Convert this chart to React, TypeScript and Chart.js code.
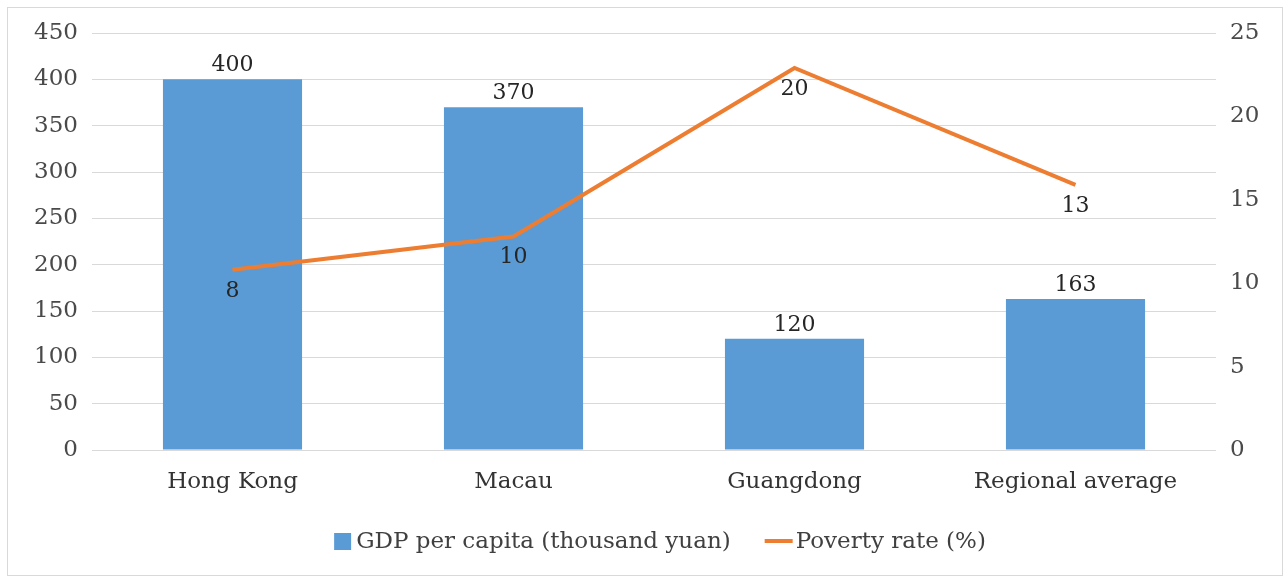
import React, { useEffect, useRef } from "react";
import { Chart, registerables } from "chart.js";

Chart.register(...registerables);

const categories = ["Hong Kong", "Macau", "Guangdong", "Regional average"];
const gdpValues = [400, 370, 120, 163];
const gdpLabels = ["400", "370", "120", "163"];
// Line as plotted against the right axis, and the labels printed beside it
const povertyValues = [10.8, 12.8, 22.9, 15.9];
const povertyLabels = ["8", "10", "20", "13"];
const leftTicks = [0, 50, 100, 150, 200, 250, 300, 350, 400, 450];
const rightTicks = [0, 5, 10, 15, 20, 25];
const seriesNames = ["GDP per capita (thousand yuan)", "Poverty rate (%)"];

const BLUE = "#5B9BD5";
const ORANGE = "#ED7D31";
const FONT = "'DejaVu Serif', serif";

const dataLabelPlugin = {
  id: "dataLabels",
  afterDatasetsDraw(chart: any) {
    const ctx = chart.ctx;
    ctx.save();
    ctx.font = `22px ${FONT}`;
    ctx.fillStyle = "#262626";
    ctx.textAlign = "center";
    ctx.textBaseline = "alphabetic";
    const barMeta = chart.getDatasetMeta(0);
    barMeta.data.forEach((el: any, i: number) => {
      ctx.fillText(gdpLabels[i], el.x, el.y - 8);
    });
    const lineMeta = chart.getDatasetMeta(1);
    lineMeta.data.forEach((el: any, i: number) => {
      ctx.fillText(povertyLabels[i], el.x, el.y + 27);
    });
    ctx.restore();
  },
};

const legendPlugin = {
  id: "customLegend",
  afterDraw(chart: any) {
    const ctx = chart.ctx;
    ctx.save();
    ctx.font = `23px ${FONT}`;
    ctx.textBaseline = "middle";
    ctx.textAlign = "left";
    const w1 = ctx.measureText(seriesNames[0]).width;
    const w2 = ctx.measureText(seriesNames[1]).width;
    const boxW = 17;
    const lineW = 28;
    const total = boxW + 5 + w1 + 34 + lineW + 3 + w2;
    const cy = 533;
    let x = 652 - total / 2;
    ctx.fillStyle = BLUE;
    ctx.fillRect(x, cy - 8, boxW, 17);
    x += boxW + 5;
    ctx.fillStyle = "#404040";
    ctx.fillText(seriesNames[0], x, cy + 1);
    x += w1 + 34;
    ctx.strokeStyle = ORANGE;
    ctx.lineWidth = 4;
    ctx.beginPath();
    ctx.moveTo(x, cy);
    ctx.lineTo(x + lineW, cy);
    ctx.stroke();
    x += lineW + 3;
    ctx.fillText(seriesNames[1], x, cy + 1);
    ctx.restore();
  },
};

export default function App() {
  const canvasRef = useRef<HTMLCanvasElement | null>(null);

  useEffect(() => {
    if (!canvasRef.current) return;
    const chart = new Chart(canvasRef.current, {
      type: "bar",
      data: {
        labels: categories,
        datasets: [
          {
            type: "bar",
            label: seriesNames[0],
            data: gdpValues,
            backgroundColor: BLUE,
            borderWidth: 0,
            barPercentage: 0.495,
            categoryPercentage: 1,
            yAxisID: "y",
            order: 2,
          },
          {
            type: "line",
            label: seriesNames[1],
            data: povertyValues,
            borderColor: ORANGE,
            backgroundColor: ORANGE,
            borderWidth: 4,
            pointRadius: 0,
            tension: 0,
            yAxisID: "y1",
            order: 1,
          } as any,
        ],
      },
      options: {
        responsive: false,
        animation: false,
        maintainAspectRatio: false,
        layout: { padding: { left: 0, right: 0, top: 25, bottom: 75 } },
        plugins: {
          legend: { display: false },
          tooltip: { enabled: false },
          title: { display: false },
        },
        scales: {
          x: {
            grid: { display: false, drawTicks: false },
            border: { display: false },
            ticks: {
              padding: 18,
              color: "#333333",
              font: { family: FONT, size: 23 },
              maxRotation: 0,
              autoSkip: false,
            },
            afterFit(scale: any) {
              scale.height = 50;
              scale.paddingLeft = 0;
              scale.paddingRight = 0;
            },
          },
          y: {
            position: "left",
            min: 0,
            max: 450,
            afterBuildTicks(scale: any) {
              scale.ticks = leftTicks.map((v) => ({ value: v }));
            },
            grid: { color: "#d9d9d9", lineWidth: 1, drawTicks: false },
            border: { display: false },
            ticks: {
              padding: 14,
              color: "#4a4a4a",
              font: { family: FONT, size: 23 },
            },
            afterFit(scale: any) {
              scale.width = 84;
              scale.paddingTop = 0;
              scale.paddingBottom = 0;
            },
          },
          y1: {
            position: "right",
            min: 0,
            max: 25,
            afterBuildTicks(scale: any) {
              scale.ticks = rightTicks.map((v) => ({ value: v }));
            },
            grid: { display: false, drawTicks: false },
            border: { display: false },
            ticks: {
              padding: 14,
              color: "#4a4a4a",
              font: { family: FONT, size: 23 },
            },
            afterFit(scale: any) {
              scale.width = 66;
              scale.paddingTop = 0;
              scale.paddingBottom = 0;
            },
          },
        },
      },
      plugins: [dataLabelPlugin, legendPlugin],
    });
    return () => chart.destroy();
  }, []);

  return (
    <div
      style={{
        position: "absolute",
        left: 7,
        top: 7,
        width: 1276,
        height: 569,
        border: "1px solid #d9d9d9",
        boxSizing: "border-box",
        background: "#ffffff",
      }}
    >
      <canvas ref={canvasRef} width={1274} height={567} style={{ display: "block" }} />
    </div>
  );
}
